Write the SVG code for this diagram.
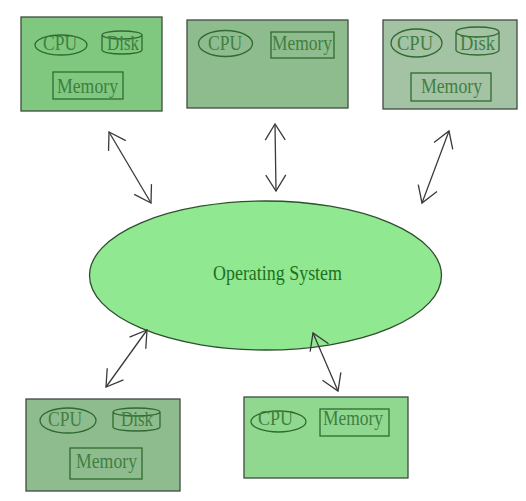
<svg xmlns="http://www.w3.org/2000/svg" width="526" height="501" viewBox="0 0 526 501">
<style>
.box{stroke:#3f4a3f;stroke-width:1.3}
.part{fill:none;stroke:#2f6a2f;stroke-width:1.3}
.t{font-family:"Liberation Serif",serif;font-size:20px;fill:#3f7f3f;text-anchor:middle}
.os{font-family:"Liberation Serif",serif;font-size:21px;fill:#1f6f1f;text-anchor:middle}
.conn line{stroke:#3a3a3a;stroke-width:1.3;marker-start:url(#ah);marker-end:url(#ah)}
</style>
<defs>
<marker id="ah" markerUnits="userSpaceOnUse" markerWidth="40" markerHeight="40" refX="0" refY="0" viewBox="-20 -20 40 40" orient="auto-start-reverse" overflow="visible">
<path d="M-16,-10 L0,0 L-16,10" fill="none" stroke="#3a3a3a" stroke-width="1.3"/>
</marker>
</defs>
<rect width="526" height="501" fill="#fff"/>
<g id="os">
<ellipse cx="265.5" cy="275.5" rx="176" ry="74.5" fill="#90e890" stroke="#2f4f2f" stroke-width="1.3"/>
<text class="os" x="277.5" y="280" textLength="129" lengthAdjust="spacingAndGlyphs">Operating System</text>
</g>
<g id="box1">
<rect class="box" x="21" y="17" width="141" height="94" fill="#80c880"/>
<ellipse class="part" cx="61" cy="45" rx="26" ry="10"/>
<text class="t" x="60" y="50" textLength="34" lengthAdjust="spacingAndGlyphs">CPU</text>
<path class="part" d="M102,35 a20,4 0 0 1 40,0 v15 a20,4 0 0 1 -40,0 z M102,35 a20,4 0 0 0 40,0"/>
<text class="t" x="123" y="50" textLength="32" lengthAdjust="spacingAndGlyphs">Disk</text>
<rect class="part" x="53" y="72" width="70" height="27"/>
<text class="t" x="87.5" y="93" textLength="61" lengthAdjust="spacingAndGlyphs">Memory</text>
</g>
<g id="box2">
<rect class="box" x="187" y="20" width="161" height="88" fill="#8fbc8f"/>
<ellipse class="part" cx="225.5" cy="43.5" rx="27" ry="13"/>
<text class="t" x="225" y="50" textLength="34" lengthAdjust="spacingAndGlyphs">CPU</text>
<rect class="part" x="271" y="32" width="63" height="26"/>
<text class="t" x="302" y="50" textLength="60" lengthAdjust="spacingAndGlyphs">Memory</text>
</g>
<g id="box3">
<rect class="box" x="383" y="20" width="134" height="89" fill="#a4c2a4"/>
<ellipse class="part" cx="416.5" cy="43" rx="25.5" ry="14"/>
<text class="t" x="415" y="50" textLength="36" lengthAdjust="spacingAndGlyphs">CPU</text>
<path class="part" d="M456,32 a21.5,5 0 0 1 43,0 v18 a21.5,5 0 0 1 -43,0 z M456,32 a21.5,5 0 0 0 43,0"/>
<text class="t" x="477.5" y="50" textLength="35" lengthAdjust="spacingAndGlyphs">Disk</text>
<rect class="part" x="411" y="73" width="80" height="28"/>
<text class="t" x="451.5" y="93" textLength="61" lengthAdjust="spacingAndGlyphs">Memory</text>
</g>
<g id="box4">
<rect class="box" x="26" y="399" width="154" height="92" fill="#8fbc8f"/>
<ellipse class="part" cx="68" cy="420.5" rx="28" ry="12.5"/>
<text class="t" x="65" y="426" textLength="34" lengthAdjust="spacingAndGlyphs">CPU</text>
<path class="part" d="M113,412 a23.5,4 0 0 1 47,0 v15 a23.5,4 0 0 1 -47,0 z M113,412 a23.5,4 0 0 0 47,0"/>
<text class="t" x="137" y="426" textLength="32" lengthAdjust="spacingAndGlyphs">Disk</text>
<rect class="part" x="70" y="448" width="72" height="31"/>
<text class="t" x="106.5" y="468" textLength="61" lengthAdjust="spacingAndGlyphs">Memory</text>
</g>
<g id="box5">
<rect class="box" x="244" y="397" width="164" height="81" fill="#90d890"/>
<ellipse class="part" cx="278.5" cy="421.5" rx="27.5" ry="10.5"/>
<text class="t" x="275.5" y="425" textLength="35" lengthAdjust="spacingAndGlyphs">CPU</text>
<rect class="part" x="320" y="409" width="69" height="27"/>
<text class="t" x="353" y="425" textLength="60" lengthAdjust="spacingAndGlyphs">Memory</text>
</g>
<g id="connectors" class="conn">
<line x1="109" y1="132" x2="151" y2="203"/>
<line x1="275" y1="124" x2="276" y2="191"/>
<line x1="449" y1="131" x2="422" y2="203"/>
<line x1="147" y1="330" x2="106" y2="387"/>
<line x1="313" y1="333" x2="338" y2="391"/>
</g>
</svg>
